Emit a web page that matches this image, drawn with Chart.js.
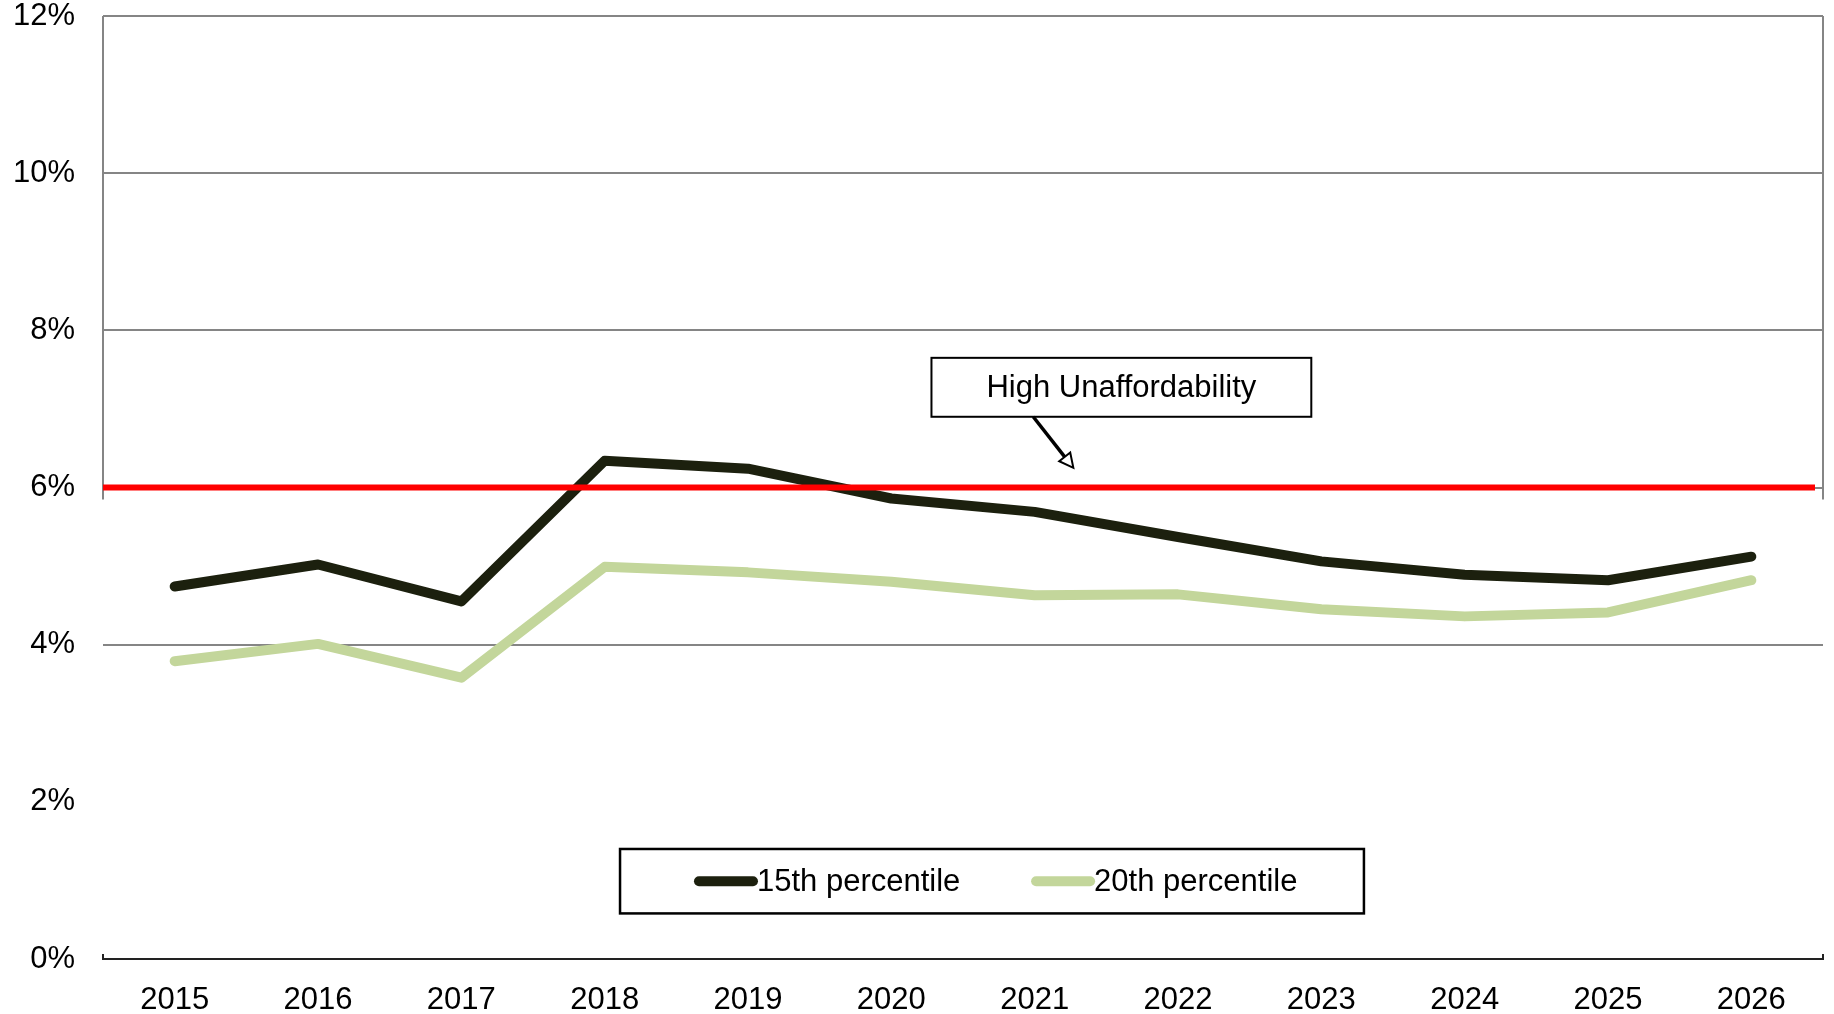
<!DOCTYPE html>
<html>
<head>
<meta charset="utf-8">
<script src="https://cdn.jsdelivr.net/npm/chart.js@4.4.1/dist/chart.umd.min.js"></script>
<style>
  html, body { margin: 0; padding: 0; background: #fff; }
  #wrap { width: 1834px; height: 1014px; position: relative; }
</style>
</head>
<body>
<div id="wrap"><canvas id="affordChart"></canvas></div>
<script>
const years = ['2015', '2016', '2017', '2018', '2019', '2020', '2021', '2022', '2023', '2024', '2025', '2026'];
const pct15 = [4.74, 5.02, 4.55, 6.34, 6.24, 5.86, 5.69, 5.37, 5.06, 4.89, 4.82, 5.12];
const pct20 = [3.79, 4.01, 3.58, 4.99, 4.92, 4.80, 4.63, 4.64, 4.45, 4.36, 4.41, 4.82];
const yTicks = [0, 2, 4, 6, 8, 10, 12];
const threshold = 6;
const thresholdLabel = 'High Unaffordability';

const FONT = "'Liberation Sans', Arial, sans-serif";

// frame, red threshold line, callout and boxed legend
const extras = {
  id: 'extras',
  beforeDatasetsDraw(chart) {
    const { ctx, chartArea: a, scales: { y } } = chart;
    ctx.save();
    // left/right frame only on the upper part
    const yRed = y.getPixelForValue(threshold);
    ctx.strokeStyle = '#858585';
    ctx.lineWidth = 2;
    ctx.beginPath();
    ctx.moveTo(a.left, a.top); ctx.lineTo(a.left, yRed + 12);
    ctx.moveTo(a.right, a.top); ctx.lineTo(a.right, yRed + 12);
    ctx.stroke();
    // bottom axis
    const y0 = y.getPixelForValue(0);
    ctx.strokeStyle = '#222';
    ctx.lineWidth = 2;
    ctx.beginPath();
    ctx.moveTo(a.left, y0 - 5); ctx.lineTo(a.left, y0);
    ctx.lineTo(a.right, y0); ctx.lineTo(a.right, y0 - 5);
    ctx.stroke();
    ctx.restore();
  },
  afterDatasetsDraw(chart) {
    const { ctx, chartArea: a, scales: { x, y } } = chart;
    ctx.save();
    // threshold
    const yRed = y.getPixelForValue(threshold);
    ctx.strokeStyle = '#ff0000';
    ctx.lineWidth = 6;
    ctx.beginPath();
    ctx.moveTo(a.left, yRed);
    ctx.lineTo(a.right - 8, yRed);
    ctx.stroke();

    // callout box
    const bx1 = x.getPixelForValue(5.28), bx2 = x.getPixelForValue(7.93);
    const by1 = y.getPixelForValue(7.65), by2 = y.getPixelForValue(6.9);
    ctx.fillStyle = '#fff';
    ctx.fillRect(bx1, by1, bx2 - bx1, by2 - by1);
    ctx.strokeStyle = '#000';
    ctx.lineWidth = 2;
    ctx.strokeRect(bx1, by1, bx2 - bx1, by2 - by1);
    ctx.fillStyle = '#000';
    ctx.font = '31px ' + FONT;
    ctx.textAlign = 'center';
    ctx.textBaseline = 'middle';
    ctx.fillText(thresholdLabel, (bx1 + bx2) / 2, (by1 + by2) / 2 + 1);

    // arrow from the box down to the line
    const ax1 = x.getPixelForValue(5.99), ay1 = by2;
    const ax2 = x.getPixelForValue(6.27), ay2 = y.getPixelForValue(6.25);
    const ang = Math.atan2(ay2 - ay1, ax2 - ax1);
    const head = 14;
    const bx = ax2 - head * Math.cos(ang), byy = ay2 - head * Math.sin(ang);
    ctx.strokeStyle = '#000';
    ctx.lineWidth = 3.5;
    ctx.beginPath();
    ctx.moveTo(ax1, ay1); ctx.lineTo(bx, byy);
    ctx.stroke();
    ctx.lineWidth = 2;
    ctx.fillStyle = '#fff';
    ctx.beginPath();
    ctx.moveTo(ax2, ay2);
    ctx.lineTo(bx + 7 * Math.sin(ang), byy - 7 * Math.cos(ang));
    ctx.lineTo(bx - 7 * Math.sin(ang), byy + 7 * Math.cos(ang));
    ctx.closePath();
    ctx.fill();
    ctx.stroke();

    // legend box
    const w = a.right - a.left;
    const lx1 = a.left + w * 0.3006, lx2 = a.left + w * 0.7331;
    const ly1 = y.getPixelForValue(1.4), ly2 = y.getPixelForValue(0.58);
    ctx.fillStyle = '#fff';
    ctx.fillRect(lx1, ly1, lx2 - lx1, ly2 - ly1);
    ctx.strokeStyle = '#000';
    ctx.lineWidth = 2.5;
    ctx.strokeRect(lx1, ly1, lx2 - lx1, ly2 - ly1);
    const ly = (ly1 + ly2) / 2;
    const starts = [a.left + w * 0.3465, a.left + w * 0.5425];
    ctx.font = '31px ' + FONT;
    ctx.textAlign = 'left';
    ctx.textBaseline = 'middle';
    chart.data.datasets.forEach((ds, i) => {
      const sx = starts[i];
      ctx.strokeStyle = ds.borderColor;
      ctx.lineWidth = 10;
      ctx.lineCap = 'round';
      ctx.beginPath();
      ctx.moveTo(sx, ly); ctx.lineTo(sx + 54, ly);
      ctx.stroke();
      ctx.fillStyle = '#000';
      ctx.fillText(ds.label, sx + 58, ly + 1);
    });
    ctx.restore();
  }
};

const ctx = document.getElementById('affordChart').getContext('2d');

const affordChart = new Chart(ctx, {
  type: 'line',
  data: {
    labels: years,
    datasets: [
      {
        label: '15th percentile',
        data: pct15,
        borderColor: '#1c200e',
        borderWidth: 10,
        borderCapStyle: 'round',
        borderJoinStyle: 'round',
        pointRadius: 0,
        tension: 0,
        fill: false
      },
      {
        label: '20th percentile',
        data: pct20,
        borderColor: '#c3d69b',
        borderWidth: 10,
        borderCapStyle: 'round',
        borderJoinStyle: 'round',
        pointRadius: 0,
        tension: 0,
        fill: false
      }
    ]
  },
  options: {
    responsive: true,
    maintainAspectRatio: false,
    animation: false,
    layout: { padding: { top: 16, right: 11, bottom: 0, left: 0 } },
    scales: {
      x: {
        offset: true,
        grid: { display: false },
        border: { display: false },
        ticks: {
          color: '#000',
          font: { family: FONT, size: 31 },
          padding: 15,
          maxRotation: 0
        },
        afterFit(scale) {
          scale.height = 55;
          scale.paddingLeft = 0;
          scale.paddingRight = 0;
        }
      },
      y: {
        min: 0,
        max: 12,
        afterBuildTicks(scale) {
          scale.ticks = yTicks.map(v => ({ value: v }));
        },
        grid: {
          drawTicks: false,
          lineWidth: 2,
          color(c) {
            const v = c.tick && c.tick.value;
            return (v === 0 || v === 2) ? 'rgba(0,0,0,0)' : '#858585';
          }
        },
        border: { display: false },
        ticks: {
          color: '#000',
          font: { family: FONT, size: 31 },
          padding: 28,
          callback: v => v + '%'
        },
        afterFit(scale) {
          scale.width = 103;
          scale.paddingTop = 0;
          scale.paddingBottom = 0;
        }
      }
    },
    plugins: {
      legend: { display: false },
      tooltip: { enabled: false }
    }
  },
  plugins: [extras]
});
</script>
</body>
</html>
